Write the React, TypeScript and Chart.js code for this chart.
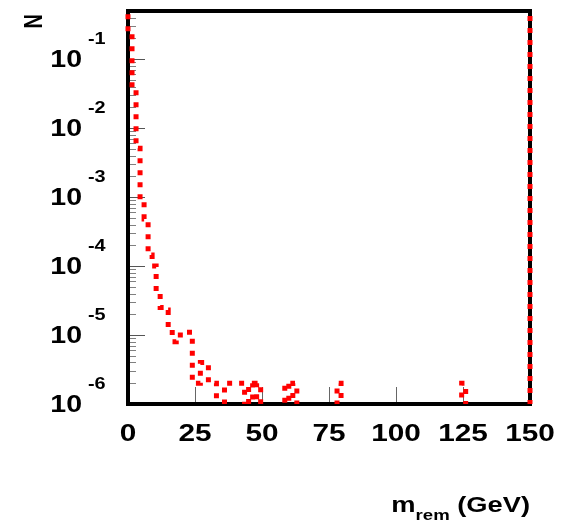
import React, { useEffect, useRef } from 'react';
import { Chart, registerables } from 'chart.js';

Chart.register(...registerables);

// ---- data ----
const xMin = 0;
const xMax = 150;
const binWidth = 1.5; // GeV, 100 bins
const yMin = 1e-6;
const yMax = 0.5;

const binContents: number[] = [
  0.25, 0.038, 0.0051, 0.0009, 0.00048, 0.000145, 0.0001, 0.000042, 0.000025, 0.000023,
  0.000013, 0.000008, 0.00001, 0.00001, 0.000011, 0.000011, 2e-6, 2e-6, 4e-6, 4e-6,
  2e-6, 2e-6, 0, 0, 2e-6, 2e-6, 2e-6, 2e-6, 2e-6, 0,
  2e-6, 0, 2e-6, 0, 0, 0, 0, 0, 0, 2e-6,
  0, 2e-6, 0, 0, 0, 0, 0, 0, 0, 0,
  0, 0, 2e-6, 0, 0, 0, 0, 0, 0, 0,
  0, 0, 0, 0, 0, 0, 0, 0, 0, 0,
  0, 0, 0, 0, 0, 0, 0, 0, 0, 0,
  0, 0, 0, 2e-6, 0, 0, 0, 0, 0, 0,
  0, 0, 0, 0, 0, 0, 0, 0, 0, 0,
];
const edgeValue = 1; // histogram edges run up past the top of the frame
const zeroFloor = 1e-9; // empty bins drawn below the visible range

const xTickValues = [0, 25, 50, 75, 100, 125, 150];
const xTickLabels = ['0', '25', '50', '75', '100', '125', '150'];
const yDecadeExponents = [-1, -2, -3, -4, -5, -6];
const yTitle = 'N';
const xTitleMain = 'm';
const xTitleSub = 'rem';
const xTitleUnit = ' (GeV)';

const FONT = '"Liberation Sans", Arial, Helvetica, sans-serif';
const SX = 1.24; // horizontal stretch of the reference text

function histogramPoints() {
  const pts: { x: number; y: number }[] = [{ x: xMin, y: edgeValue }];
  binContents.forEach((v, i) => pts.push({ x: xMin + i * binWidth, y: v > 0 ? v : zeroFloor }));
  pts.push({ x: xMax, y: edgeValue });
  return pts;
}

function drawText(ctx: CanvasRenderingContext2D, text: string, x: number, y: number, size: number, align: CanvasTextAlign, sx = SX) {
  ctx.save();
  ctx.translate(x, y);
  ctx.scale(sx, 1);
  ctx.font = `bold ${size}px ${FONT}`;
  ctx.textAlign = align;
  ctx.textBaseline = 'alphabetic';
  ctx.fillStyle = '#000';
  ctx.fillText(text, 0, 0);
  ctx.restore();
}

function textWidth(ctx: CanvasRenderingContext2D, text: string, size: number, sx = SX) {
  ctx.save();
  ctx.font = `bold ${size}px ${FONT}`;
  const w = ctx.measureText(text).width * sx;
  ctx.restore();
  return w;
}

const rootFramePlugin = {
  id: 'rootFrame',
  beforeDatasetsDraw(chart: any) {
    const { ctx, chartArea: a, scales } = chart;
    const ys = scales.y;
    const xs = scales.x;
    ctx.save();
    ctx.lineWidth = 1;
    for (let d = -7; d <= 0; d++) {
      for (let m = 1; m <= 9; m++) {
        const v = m * Math.pow(10, d);
        if (v < yMin * 0.999 || v > yMax) continue;
        const y = Math.round(ys.getPixelForValue(v)) + 0.5;
        const major = m === 1;
        ctx.strokeStyle = major ? '#555' : '#808080';
        ctx.beginPath();
        ctx.moveTo(a.left, y);
        ctx.lineTo(a.left + (major ? 17 : 8), y);
        ctx.stroke();
      }
    }
    ctx.strokeStyle = '#666';
    for (const t of xTickValues) {
      const x = Math.round(xs.getPixelForValue(t)) + 0.5;
      ctx.beginPath();
      ctx.moveTo(x, a.bottom);
      ctx.lineTo(x, a.bottom - 17);
      ctx.stroke();
    }
    ctx.strokeStyle = '#000';
    ctx.lineWidth = 4;
    ctx.strokeRect(a.left, a.top, a.right - a.left, a.bottom - a.top);
    ctx.restore();
  },
  afterDraw(chart: any) {
    const { ctx, chartArea: a, scales } = chart;
    const ys = scales.y;
    const xs = scales.x;
    // y tick labels: 10^n
    yDecadeExponents.forEach((e) => {
      const y = ys.getPixelForValue(Math.pow(10, e));
      drawText(ctx, '10', 82, y + 8, 23, 'right');
      drawText(ctx, String(e), 88, y - 15, 16, 'left');
    });
    // x tick labels
    xTickValues.forEach((v, i) => {
      const x = xs.getPixelForValue(v);
      drawText(ctx, xTickLabels[i], x, a.bottom + 37, 24, 'center');
    });
    // x title
    const wMain = textWidth(ctx, xTitleMain, 22);
    const wSub = textWidth(ctx, xTitleSub, 15);
    const wUnit = textWidth(ctx, xTitleUnit, 22);
    const right = a.right;
    const start = right - (wMain + wSub + wUnit);
    const base = 512;
    drawText(ctx, xTitleMain, start, base, 22, 'left');
    drawText(ctx, xTitleSub, start + wMain, base + 8, 15, 'left');
    drawText(ctx, xTitleUnit, start + wMain + wSub, base, 22, 'left');
    // y title, rotated
    ctx.save();
    ctx.translate(42, 14);
    ctx.scale(1.25, 1);
    ctx.rotate(-Math.PI / 2);
    ctx.font = `bold 20px ${FONT}`;
    ctx.textAlign = 'right';
    ctx.textBaseline = 'alphabetic';
    ctx.fillStyle = '#000';
    ctx.fillText(yTitle, 0, 0);
    ctx.restore();
  },
};

export default function App() {
  const canvasRef = useRef<HTMLCanvasElement | null>(null);

  useEffect(() => {
    const canvas = canvasRef.current;
    if (!canvas) return;
    const chart = new Chart(canvas, {
      type: 'line',
      data: {
        datasets: [
          {
            data: histogramPoints(),
            borderColor: '#ff0000',
            borderWidth: 5,
            borderDash: [5, 7],
            borderCapStyle: 'butt',
            pointRadius: 0,
            fill: false,
            stepped: 'before',
            tension: 0,
            clip: { left: 3, top: 0, right: 3, bottom: 0 } as any,
          },
        ],
      },
      options: {
        responsive: false,
        animation: false,
        events: [],
        layout: { padding: { left: 128, right: 45, top: 11, bottom: 121 } },
        plugins: { legend: { display: false }, tooltip: { enabled: false } },
        scales: {
          x: { type: 'linear', min: xMin, max: xMax, display: false },
          y: { type: 'logarithmic', min: yMin, max: yMax, display: false, bounds: 'data' },
        },
      },
      plugins: [rootFramePlugin],
    });
    return () => chart.destroy();
  }, []);

  return (
    <div style={{ position: 'absolute', left: 0, top: 0, width: 575, height: 525, background: '#fff' }}>
      <canvas ref={canvasRef} width={575} height={525} style={{ display: 'block', width: 575, height: 525 }} />
    </div>
  );
}
